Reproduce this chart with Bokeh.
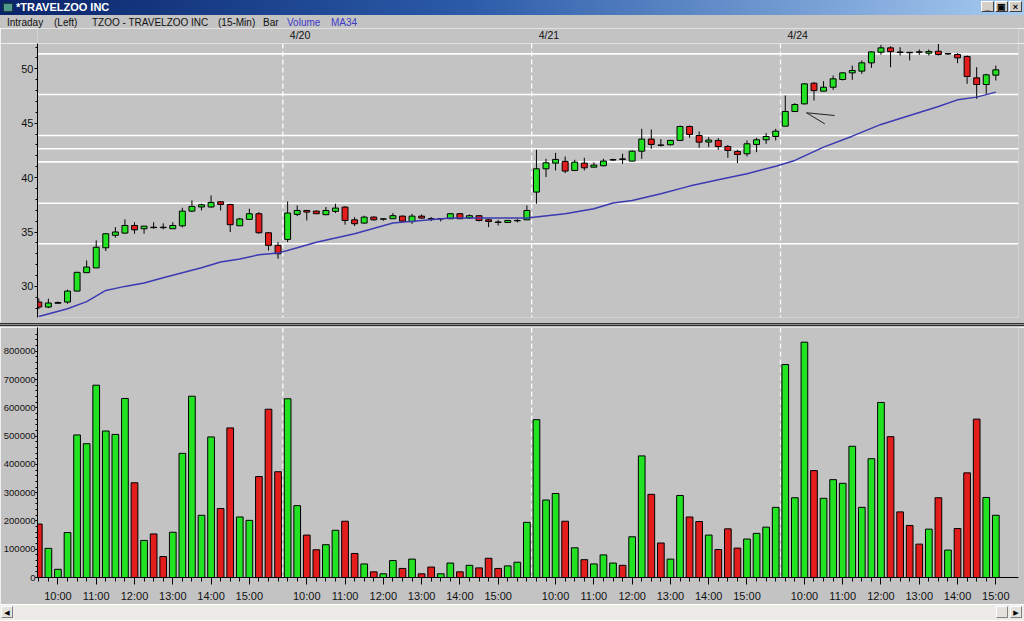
from bokeh.plotting import figure
from bokeh.models import (Range1d, Span, FixedTicker, NumeralTickFormatter,
                          Div, ColumnDataSource)
from bokeh.layouts import column
from bokeh.embed import file_html
from bokeh.resources import INLINE
from bokeh.core.properties import value

# ---------------- data (15-min bars, 4/19 .. 4/24) ----------------
bars_per_day = [26, 26, 26, 23]
day_labels = ["4/20", "4/21", "4/24"]
hour_labels = ["10:00", "11:00", "12:00", "13:00", "14:00", "15:00"]

opens = [
    # day 1
    28.56, 28.10, 28.45, 28.56, 29.57, 31.26, 31.70, 33.55, 34.70, 34.90, 35.60, 35.30, 35.44,
    35.44, 35.30, 35.57, 36.92, 37.30, 37.30, 37.78, 37.53, 35.57, 36.16, 36.68, 34.93, 33.77,
    # day 2
    34.32, 36.62, 36.98, 36.92, 36.59, 36.90, 37.29, 36.12, 35.82, 36.37, 36.18, 36.22, 36.46,
    35.95, 36.46, 36.22, 36.20, 36.22, 36.68, 36.30, 36.50, 36.12, 35.92, 35.88, 36.03, 36.12,
    # day 3
    38.67, 40.81, 41.33, 41.49, 40.66, 41.33, 40.96, 41.09, 41.62, 41.72, 41.52, 42.43, 43.54,
    43.00, 43.02, 43.42, 44.70, 43.87, 43.27, 43.42, 42.86, 42.40, 42.19, 43.05, 43.48, 43.78,
    # day 4
    44.73, 46.08, 46.78, 48.68, 47.95, 48.31, 49.02, 49.63, 49.79, 50.55, 51.53, 51.93, 51.55,
    51.52, 51.56, 51.44, 51.62, 51.37, 51.32, 51.13, 49.17, 48.56, 49.42,
]
highs = [
    28.90, 28.87, 28.60, 29.70, 31.35, 32.39, 34.23, 34.90, 35.45, 36.16, 35.90, 35.55, 35.90,
    35.80, 35.90, 37.23, 37.90, 37.60, 38.36, 37.84, 37.60, 36.30, 37.14, 36.83, 35.00, 34.07,
    37.81, 37.44, 37.00, 36.98, 37.30, 37.60, 37.38, 36.37, 36.50, 36.43, 36.24, 36.74, 36.52,
    36.67, 36.61, 36.37, 36.22, 36.74, 36.74, 36.61, 36.52, 36.20, 36.12, 36.12, 36.18, 37.44,
    42.56, 41.73, 42.28, 41.94, 41.64, 41.82, 41.40, 41.73, 41.73, 42.20, 42.50, 44.49, 44.43,
    43.54, 43.48, 44.79, 44.79, 44.24, 43.72, 43.63, 43.00, 42.56, 43.42, 43.66, 44.09, 44.49,
    47.55, 46.85, 48.68, 48.77, 48.87, 49.39, 49.69, 50.30, 50.77, 51.62, 52.20, 52.08, 51.99,
    51.56, 51.78, 51.78, 52.30, 51.44, 51.44, 51.23, 50.15, 49.54, 50.30,
]
lows = [
    27.90, 28.00, 28.40, 28.40, 29.55, 31.25, 31.70, 33.25, 34.47, 34.84, 34.84, 34.84, 35.30,
    35.25, 35.27, 35.42, 36.83, 36.98, 37.23, 36.98, 35.00, 35.55, 36.16, 34.84, 33.30, 32.54,
    34.07, 36.46, 36.06, 36.66, 36.55, 36.74, 35.67, 35.54, 35.76, 36.06, 36.03, 36.20, 35.91,
    35.76, 36.22, 36.00, 35.97, 36.20, 36.19, 36.20, 35.97, 35.45, 35.60, 35.82, 35.88, 36.10,
    37.60, 40.05, 40.66, 40.41, 40.60, 40.66, 40.96, 41.03, 41.52, 41.27, 41.50, 41.73, 42.65,
    42.86, 42.96, 43.35, 43.66, 42.74, 42.80, 42.56, 41.82, 41.33, 41.94, 42.34, 43.10, 43.42,
    44.73, 46.02, 46.72, 47.09, 47.95, 48.07, 48.93, 48.99, 49.54, 50.09, 51.30, 50.15, 51.23,
    50.77, 51.29, 51.23, 51.23, 51.29, 50.52, 48.62, 47.24, 47.70, 48.93,
]
closes = [
    28.10, 28.47, 28.52, 29.57, 31.29, 31.78, 33.60, 34.84, 35.00, 35.60, 35.20, 35.54, 35.40,
    35.40, 35.60, 36.92, 37.35, 37.50, 37.72, 37.53, 35.67, 36.20, 36.68, 34.93, 33.77, 33.00,
    36.74, 36.98, 36.83, 36.68, 36.98, 37.20, 36.06, 35.76, 36.37, 36.12, 36.21, 36.50, 36.00,
    36.46, 36.28, 36.19, 36.23, 36.68, 36.22, 36.50, 36.06, 35.97, 35.88, 36.06, 36.06, 36.98,
    40.81, 41.36, 41.67, 40.60, 41.42, 40.90, 41.15, 41.52, 41.65, 41.68, 42.43, 43.54, 43.05,
    42.97, 43.42, 44.70, 43.97, 43.26, 43.45, 42.86, 42.50, 42.13, 43.11, 43.48, 43.78, 44.27,
    46.08, 46.72, 48.62, 48.00, 48.31, 49.08, 49.63, 49.85, 50.55, 51.56, 51.93, 51.59, 51.50,
    51.48, 51.53, 51.59, 51.32, 51.40, 51.01, 49.30, 48.56, 49.45, 49.91,
]
volumes = [
    189000, 103000, 29000, 159000, 504000, 473000, 680000, 518000, 506000, 633000, 335000,
    131000, 154000, 74000, 160000, 439000, 641000, 220000, 497000, 244000, 529000, 214000,
    202000, 357000, 595000, 374000,
    632000, 254000, 150000, 98000, 116000, 167000, 199000, 85000, 48000, 20000, 13000, 60000,
    32000, 65000, 13000, 37000, 13000, 51000, 20000, 43000, 34000, 68000, 32000, 41000, 54000,
    195000,
    558000, 274000, 297000, 199000, 105000, 63000, 48000, 80000, 51000, 43000, 144000, 430000,
    294000, 122000, 65000, 290000, 214000, 198000, 150000, 99000, 172000, 104000, 136000,
    156000, 178000, 248000,
    753000, 282000, 832000, 378000, 280000, 346000, 333000, 464000, 248000, 420000, 619000,
    498000, 232000, 184000, 118000, 171000, 282000, 97000, 173000, 370000, 560000, 283000,
    220000,
]
# MA34: bar index -> value
ma_x = [0, 3, 5, 7, 9, 11, 13, 15, 17, 19, 21, 23, 25, 27, 29, 33, 37, 40, 43, 46, 51, 55,
        58, 60, 62, 65, 68, 71, 74, 77, 79, 82, 85, 88, 91, 94, 96, 98, 100]
ma_y = [27.24, 27.95, 28.60, 29.63, 30.00, 30.31, 30.80, 31.26, 31.72, 32.24, 32.51, 32.91,
        33.06, 33.55, 34.05, 34.84, 35.82, 36.06, 36.28, 36.28, 36.28, 36.68, 37.14, 37.66,
        37.90, 38.51, 39.22, 39.80, 40.35, 41.05, 41.58, 42.80, 43.81, 44.89, 45.71, 46.54,
        47.15, 47.40, 47.86]
# user-drawn support / resistance lines
levels = [51.38, 47.64, 43.87, 42.65, 41.45, 37.65, 33.92]
# hand-drawn arrow near the 4/24 open
arrow_x = [83.15, 80.22, 82.13]
arrow_y = [45.71, 45.96, 44.94]
price_ticks = [30, 35, 40, 45, 50]
vol_ticks = [0, 100000, 200000, 300000, 400000, 500000, 600000, 700000, 800000]
header_texts = ["Intraday", "(Left)", "TZOO - TRAVELZOO INC", "(15-Min)", "Bar", "Volume", "MA34"]

# ---------------- layout constants ----------------
W = 1024
GRAY = "#c3c3c3"
GREEN = "#22e322"
RED = "#e31c1c"
BLUE_TXT = "#3c3cc8"
FONT = "Liberation Sans"
BL, BR = 37, 6                     # frame borders left / right
X0, X1 = -0.136, 102.37            # bar-index range shown
header_px = [7, 54, 92, 218, 263, 287, 331]
header_col = ["#111111"] * 5 + [BLUE_TXT] * 2

# ---------------- derived ----------------
n = len(closes)
idx = list(range(n))
colors = [GREEN if c >= o else RED for o, c in zip(opens, closes)]
src = ColumnDataSource(dict(
    x=idx, high=highs, low=lows,
    top=[max(o, c) for o, c in zip(opens, closes)],
    bottom=[min(o, c) for o, c in zip(opens, closes)],
    color=colors, vol=volumes))

day_starts = []
s = 0
for b in bars_per_day:
    day_starts.append(s)
    s += b
boundaries = [d - 0.5 for d in day_starts[1:]]

hour_ticks, overrides = [], {}
for d, b in zip(day_starts, bars_per_day):
    for h, lab in enumerate(hour_labels):
        t = d + 2 + 4 * h
        if t < d + b:
            hour_ticks.append(t)
            overrides[t] = lab

xr = Range1d(X0, X1)


def base_fig(**kw):
    f = figure(output_backend="svg", toolbar_location=None, outline_line_color=None,
               background_fill_color=GRAY, border_fill_color=GRAY,
               min_border_left=BL, min_border_right=BR, **kw)
    f.grid.visible = False
    return f


# ---------------- header line (Div) ----------------
spans = "".join(
    f"<span style=\"position:absolute;left:{px}px;top:1px;color:{col};"
    f"font:10px '{FONT}';line-height:13px;white-space:nowrap;\">{txt}</span>"
    for txt, px, col in zip(header_texts, header_px, header_col))
header_div = Div(text=(f"<div style=\"position:relative;width:{W}px;height:13px;"
                       f"background:{GRAY};\">{spans}</div>"),
                 width=W, height=13, margin=(0, 0, 0, 0))

# ---------------- day markers strip ----------------
hdr = base_fig(width=W, height=15, x_range=xr, y_range=Range1d(0, 15),
               x_axis_location=None, y_axis_location=None,
               min_border_top=0, min_border_bottom=0)
hdr.text(x=boundaries, y=[8.7] * len(boundaries), text=day_labels, x_offset=7,
         text_color="#111111", text_font=value(FONT), text_font_size="10.5px",
         text_baseline="middle", text_align="left")

# ---------------- price panel ----------------
p1 = base_fig(width=W, height=279, x_range=xr, y_range=Range1d(27.14, 52.33),
              x_axis_location=None, min_border_top=0, min_border_bottom=5)
ya = p1.yaxis[0]
ya.ticker = FixedTicker(ticks=price_ticks, minor_ticks=list(range(27, 53)))
ya.axis_line_color = "black"
ya.major_tick_line_color = "black"
ya.minor_tick_line_color = "black"
ya.major_tick_in = 0
ya.major_tick_out = 3
ya.minor_tick_in = 0
ya.minor_tick_out = 2
ya.major_label_standoff = 1
ya.major_label_text_font = FONT
ya.major_label_text_font_size = "11px"
ya.major_label_text_color = "#111111"

for lv in levels:
    p1.add_layout(Span(location=lv, dimension="width", line_color="white",
                       line_width=1.6, level="underlay"))
for bnd in boundaries:
    p1.add_layout(Span(location=bnd, dimension="height", line_color="white",
                       line_width=1.3, line_dash="5 3", level="underlay"))

p1.segment(x0="x", y0="low", x1="x", y1="high", source=src, line_color="black", line_width=1)
p1.vbar(x="x", top="top", bottom="bottom", width=0.62, source=src,
        fill_color="color", line_color="black", line_width=1)
p1.line(ma_x, ma_y, line_color="#3a3ab2", line_width=1.5)
p1.line(arrow_x, arrow_y, line_color="#222222", line_width=1)

# ---------------- panel separator ----------------
sep_div = Div(text="", width=W, height=5, margin=(0, 0, 0, 0),
              styles={"background": "linear-gradient(#c3c3c3 0 1px, #333333 1px 2px, "
                                    "#8a8a8a 2px 3px, #333333 3px 4px, #c3c3c3 4px 5px)"})

# ---------------- volume panel ----------------
p2 = base_fig(width=W, height=277, x_range=xr, y_range=Range1d(0, 884000),
              min_border_top=0, min_border_bottom=25)
for bnd in boundaries:
    p2.add_layout(Span(location=bnd, dimension="height", line_color="white",
                       line_width=1.3, line_dash="5 3", level="underlay"))
p2.vbar(x="x", top="vol", bottom=0, width=0.7, source=src,
        fill_color="color", line_color="black", line_width=1)

xa = p2.xaxis[0]
xa.ticker = FixedTicker(ticks=hour_ticks, minor_ticks=idx)
xa.major_label_overrides = overrides
xa.axis_line_color = "black"
xa.major_tick_line_color = "black"
xa.minor_tick_line_color = "black"
xa.major_tick_in = 0
xa.major_tick_out = 7
xa.minor_tick_in = 0
xa.minor_tick_out = 4
xa.major_label_standoff = 5
xa.major_label_text_font = FONT
xa.major_label_text_font_size = "11px"
xa.major_label_text_color = "#111111"

va = p2.yaxis[0]
va.ticker = FixedTicker(ticks=vol_ticks, minor_ticks=list(range(0, 880000, 20000)))
va.formatter = NumeralTickFormatter(format="0")
va.axis_line_color = "black"
va.major_tick_line_color = "black"
va.minor_tick_line_color = "black"
va.major_tick_in = 0
va.major_tick_out = 2
va.minor_tick_in = 0
va.minor_tick_out = 2
va.major_label_standoff = 0
va.major_label_text_font = FONT
va.major_label_text_font_size = "9.5px"
va.major_label_text_color = "#111111"

# ---------------- window chrome ----------------
btn = ("position:absolute;top:1px;width:13px;height:11px;background:#d4d0c8;"
       "border:1px solid;border-color:#fff #404040 #404040 #fff;"
       "font:bold 9px 'Liberation Sans';line-height:11px;text-align:center;color:#000;")
title_html = (
    f"<div style=\"position:relative;width:{W}px;height:15px;"
    "background:linear-gradient(to right,#0a246a 0%,#2a5aa8 45%,#a6caf0 100%);\">"
    "<span style=\"position:absolute;left:3px;top:3px;width:10px;height:9px;"
    "background:#4f9a8a;border:1px solid #1d3d3d;\"></span>"
    "<span style=\"position:absolute;left:16px;top:0;color:#fff;"
    "font:bold 11px 'Liberation Sans';line-height:15px;\">*TRAVELZOO INC</span>"
    f"<span style=\"{btn}left:981px;\">_</span>"
    f"<span style=\"{btn}left:995px;\">&#9635;</span>"
    f"<span style=\"{btn}left:1009px;\">&#215;</span>"
    "</div>")
title_div = Div(text=title_html, width=W, height=15, margin=(0, 0, 0, 0))

sbtn = ("position:absolute;top:1px;width:12px;height:12px;background:#e4e2dc;"
        "border:1px solid;border-color:#fff #808080 #808080 #fff;"
        "font:7px 'DejaVu Sans';line-height:12px;text-align:center;color:#000;")
scroll_div = Div(text=(
    f"<div style=\"position:relative;width:{W}px;height:16px;background:#ecebe7;"
    "border-top:1px solid #ffffff;box-sizing:border-box;\">"
    f"<span style=\"{sbtn}left:1px;\">&#9664;</span>"
    f"<span style=\"{sbtn}left:996px;\"></span>"
    f"<span style=\"{sbtn}left:1010px;\">&#9654;</span>"
    "</div>"), width=W, height=16, margin=(0, 0, 0, 0))

layout = column(title_div, header_div, hdr, p1, sep_div, p2, scroll_div, spacing=0)

open("out.html", "w").write(file_html(layout, INLINE))
